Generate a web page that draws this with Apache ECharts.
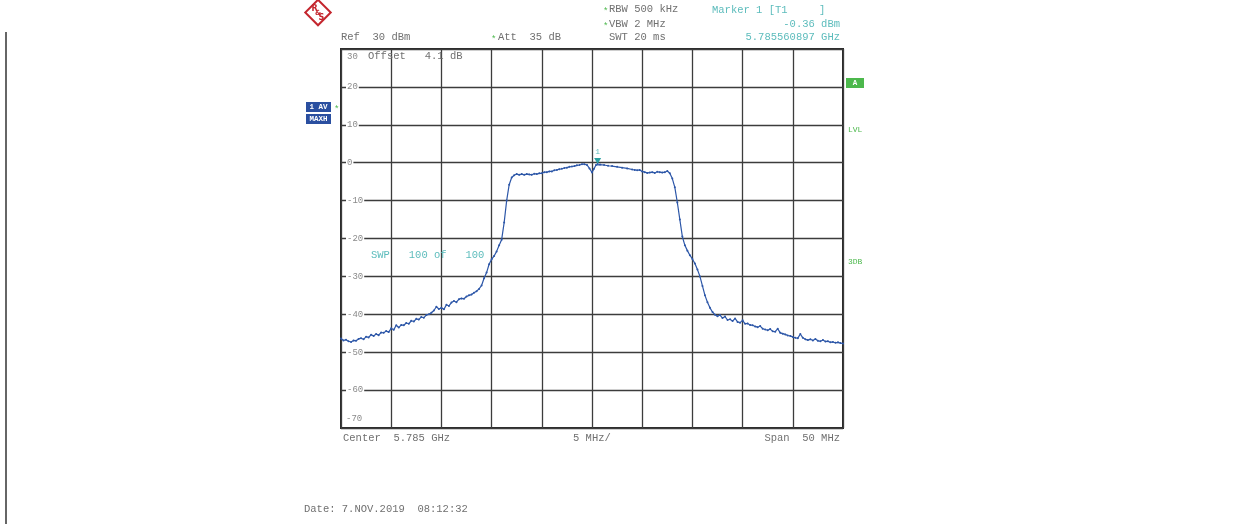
<!DOCTYPE html>
<html>
<head>
<meta charset="utf-8">
<script src="https://cdn.jsdelivr.net/npm/echarts@6/dist/echarts.min.js"></script>
<style>html,body{margin:0;padding:0;background:#fff;}#c{width:1244px;height:524px;}</style>
</head>
<body>
<div id="c"></div>
<script>
// Frequency offset from center (MHz) and level (dBm)
var leftSkirt = [
 [-25,-46.4],[-24.75,-46.9],[-24.5,-46.7],[-24.25,-47.1],[-24,-47.3],[-23.75,-46.9],[-23.5,-47.0],[-23.25,-46.5],
 [-23,-46.3],[-22.75,-46.6],[-22.5,-45.9],[-22.25,-46.1],[-22,-45.4],[-21.75,-45.7],[-21.5,-45.2],[-21.25,-45.5],
 [-21,-44.8],[-20.75,-44.9],[-20.5,-44.4],[-20.25,-44.7],[-20,-43.7],[-19.75,-44.1],[-19.5,-42.9],[-19.25,-43.5],
 [-19,-42.8],[-18.75,-42.9],[-18.5,-42.3],[-18.25,-42.5],[-18,-41.7],[-17.75,-41.9],[-17.5,-41.2],[-17.25,-41.4],
 [-17,-40.7],[-16.75,-40.9],[-16.5,-40.2],[-16.25,-40.0],[-16,-39.6],[-15.75,-39.0],[-15.5,-38.0],[-15.25,-38.6],
 [-15,-38.3],[-14.75,-38.7],[-14.5,-37.5],[-14.25,-37.8],[-14,-36.9],[-13.75,-36.5],[-13.5,-36.8],[-13.25,-36.0],
 [-13,-35.8],[-12.75,-35.9],[-12.5,-35.3],[-12.25,-35.0],[-12,-34.8],[-11.75,-34.3],[-11.5,-33.9],[-11.25,-33.3],
 [-11,-32.4],[-10.75,-30.5],[-10.5,-29.0],[-10.25,-26.8],[-10,-25.5],[-9.75,-24.6],[-9.5,-23.4],[-9.25,-21.8],
 [-9,-20.3],[-8.75,-15.8],[-8.5,-10.0],[-8.25,-5.8],[-8,-3.9]
];
var bandTop = [
 [-7.75,-3.3],[-7.5,-3.0],[-7.25,-3.2],[-7,-3.0],[-6.75,-3.2],[-6.5,-3.0],[-6.25,-3.1],[-6,-3.2],[-5.75,-2.9],
 [-5.5,-3.0],[-5.25,-2.8],[-5,-2.8],[-4.75,-2.5],[-4.5,-2.5],[-4.25,-2.3],[-4,-2.3],[-3.75,-2.0],[-3.5,-1.9],
 [-3.25,-1.7],[-3,-1.6],[-2.75,-1.4],[-2.5,-1.3],[-2.25,-1.1],[-2,-1.0],[-1.75,-0.9],[-1.5,-0.7],[-1.25,-0.6],
 [-1,-0.4],[-0.75,-0.4],[-0.5,-0.6],[-0.25,-1.5],[0,-2.6],[0.2,-1.6],[0.4,-0.6],[0.56,-0.36],[0.8,-0.5],
 [1.2,-0.6],[1.6,-0.8],[2,-0.9],[2.5,-1.1],[3,-1.3],[3.5,-1.5],[4,-1.8],[4.25,-1.9],[4.5,-2.0],[4.75,-1.9],
 [5,-2.3],[5.25,-2.5],[5.5,-2.7],[5.75,-2.6],[6,-2.5],[6.25,-2.7],[6.5,-2.4],[6.75,-2.5],[7,-2.6],[7.25,-2.5],
 [7.5,-2.2],[7.75,-2.8]
];
var rightSkirt = [
 [8,-4.2],[8.25,-6.5],[8.5,-10.5],[8.75,-15.0],[9,-19.5],[9.25,-21.8],[9.5,-23.2],[9.75,-24.4],[10,-25.4],
 [10.25,-26.6],[10.5,-28.2],[10.75,-30.0],[11,-32.5],[11.25,-35.0],[11.5,-36.8],[11.75,-38.3],
 [12,-39.4],[12.25,-40.1],[12.5,-40.5],[12.75,-40.2],[13,-41.0],[13.25,-40.6],[13.5,-41.5],[13.75,-41.3],
 [14,-41.8],[14.25,-41.1],[14.5,-42.0],[14.75,-42.2],[15,-41.6],[15.25,-42.5],[15.5,-42.4],[15.75,-42.8],
 [16,-42.9],[16.25,-43.2],[16.5,-43.4],[16.75,-43.1],[17,-43.8],[17.25,-44.0],[17.5,-44.2],[17.75,-43.9],
 [18,-44.5],[18.25,-44.6],[18.5,-43.8],[18.75,-44.9],[19,-45.1],[19.25,-45.3],[19.5,-45.6],[19.75,-45.7],
 [20,-46.0],[20.25,-46.2],[20.5,-46.3],[20.75,-45.2],[21,-46.2],[21.25,-46.6],[21.5,-46.8],[21.75,-46.6],
 [22,-46.9],[22.25,-46.5],[22.5,-47.0],[22.75,-47.1],[23,-46.8],[23.25,-47.2],[23.5,-47.1],[23.75,-47.4],
 [24,-47.3],[24.25,-47.5],[24.5,-47.4],[24.75,-47.6],[25,-47.7]
];
var marker1 = [0.56, -0.36];
var yTicks = [20, 10, 0, -10, -20, -30, -40, -50, -60];
var yTopLabel = '30';
var yBottomLabel = '-70';

var trace = leftSkirt.concat(bandTop, rightSkirt);

var MONO = '"Liberation Mono", "DejaVu Sans Mono", monospace';
var GRAY = '#707070';
var TEAL = '#5cbcbc';
var GREEN = '#4cb84c';
var BLUE = '#2a4fa0';

function txt(x, y, s, color, align, size) {
  return { type: 'text', x: x, y: y, style: { text: s, fill: color || GRAY, font: (size || 10.5) + 'px ' + MONO, textAlign: align || 'left', textVerticalAlign: 'middle' }, z: 100 };
}
function star(x, y) {
  return { type: 'text', x: x, y: y + 3, style: { text: '*', fill: GREEN, font: '9px ' + MONO, textAlign: 'left', textVerticalAlign: 'middle' }, z: 100 };
}
function box(x, y, w, h, fill, s) {
  return { type: 'group', x: x, y: y, z: 100, children: [
    { type: 'rect', shape: { x: 0, y: 0, width: w, height: h }, style: { fill: fill } },
    { type: 'text', x: w / 2, y: h / 2 + 0.5, style: { text: s, fill: '#fff', font: 'bold 7.5px ' + MONO, textAlign: 'center', textVerticalAlign: 'middle' } }
  ]};
}

var chart = echarts.init(document.getElementById('c'), null, { renderer: 'canvas' });
chart.setOption({
  animation: false,
  backgroundColor: '#fff',
  grid: { left: 341, right: 401, top: 49, bottom: 96, show: true, borderColor: '#2a2a2a', borderWidth: 2, backgroundColor: 'transparent' },
  xAxis: {
    type: 'value', min: -25, max: 25, interval: 5,
    axisLine: { show: false }, axisTick: { show: false }, axisLabel: { show: false },
    splitLine: { show: true, lineStyle: { color: '#3c3c3c', width: 1.3 } }
  },
  yAxis: {
    type: 'value', min: -70, max: 30, interval: 10,
    axisLine: { show: false }, axisTick: { show: false },
    splitLine: { show: true, lineStyle: { color: '#3c3c3c', width: 1.3 } },
    axisLabel: {
      inside: true, margin: 5, color: '#8a8a8a', fontFamily: MONO, fontSize: 9,
      backgroundColor: '#fff', padding: [0, 1, 0, 1],
      formatter: function (v) { return yTicks.indexOf(v) >= 0 ? String(v) : ''; }
    },
    z: 3
  },
  series: [{
    type: 'line', data: trace, showSymbol: true, symbol: 'circle', symbolSize: 2,
    itemStyle: { color: '#2d57a8' },
    lineStyle: { color: '#2d57a8', width: 1.2 },
    z: 5,
    markPoint: {
      symbol: 'triangle', symbolSize: [7, 6], symbolRotate: 180, symbolOffset: [0, -3],
      itemStyle: { color: '#2aa0a0' },
      label: { show: true, position: 'top', distance: 2, formatter: '1', color: TEAL, fontFamily: MONO, fontSize: 8 },
      data: [{ coord: marker1 }]
    }
  }],
  graphic: [
    // R&S logo
    { type: 'group', x: 318, y: 12.5, z: 100, children: [
      { type: 'rect', shape: { x: -9, y: -9, width: 18, height: 18 }, rotation: Math.PI / 4, style: { fill: '#fff', stroke: '#c4262e', lineWidth: 2 } },
      { type: 'text', x: -3.5, y: -4, style: { text: 'R', fill: '#c4262e', font: 'bold 8px "DejaVu Sans"', textAlign: 'center', textVerticalAlign: 'middle' } },
      { type: 'text', x: 0, y: 0.5, style: { text: '&', fill: '#c4262e', font: 'bold 7px "DejaVu Sans"', textAlign: 'center', textVerticalAlign: 'middle' } },
      { type: 'text', x: 3.5, y: 5, style: { text: 'S', fill: '#c4262e', font: 'bold 8px "DejaVu Sans"', textAlign: 'center', textVerticalAlign: 'middle' } }
    ]},
    // left frame line
    { type: 'line', shape: { x1: 6, y1: 32, x2: 6, y2: 524 }, style: { stroke: '#333', lineWidth: 1.5 }, z: 100 },
    // extreme y labels inside the frame
    txt(347, 57, yTopLabel, '#8a8a8a', 'left', 9),
    txt(346, 419, yBottomLabel, '#8a8a8a', 'left', 9),
    // header
    star(603, 9), txt(609, 9, 'RBW 500 kHz'),
    star(603, 24), txt(609, 24, 'VBW 2 MHz'),
    txt(609, 37, 'SWT 20 ms'),
    txt(341, 37, 'Ref  30 dBm'),
    star(491, 37), txt(498, 37, 'Att  35 dB'),
    txt(712, 10, 'Marker 1 [T1     ]', TEAL),
    txt(840, 24, '-0.36 dBm', TEAL, 'right'),
    txt(840, 37, '5.785560897 GHz', TEAL, 'right'),
    // inside plot
    txt(368, 56, 'Offset   4.1 dB'),
    txt(371, 255, 'SWP   100 of   100', TEAL),
    // left boxes
    box(306, 102, 25, 10, BLUE, '1 AV'),
    star(334, 107),
    box(306, 114, 25, 10, BLUE, 'MAXH'),
    // right annotations
    box(846, 78, 18, 10, GREEN, 'A'),
    txt(848, 130, 'LVL', GREEN, 'left', 8),
    txt(848, 262, '3DB', GREEN, 'left', 8),
    // bottom
    txt(343, 438, 'Center  5.785 GHz'),
    txt(573, 438, '5 MHz/'),
    txt(840, 438, 'Span  50 MHz', GRAY, 'right'),
    txt(304, 509, 'Date: 7.NOV.2019  08:12:32')
  ]
});
</script>
</body>
</html>
